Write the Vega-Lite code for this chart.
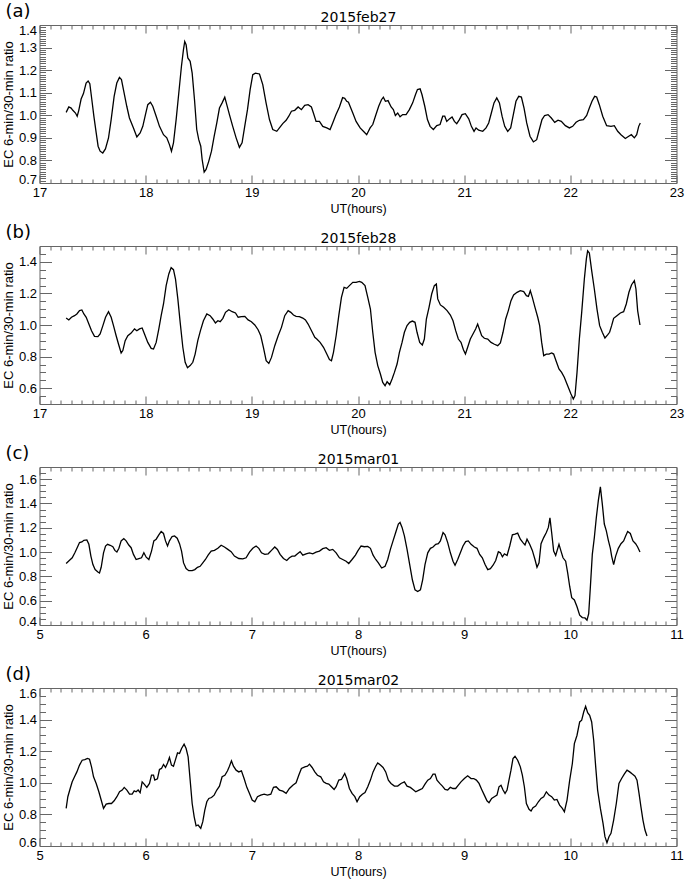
{
  "$schema": "https://vega.github.io/schema/vega-lite/v6.json",
  "background": "white",
  "padding": {"left": 1.5, "top": 2, "right": 0, "bottom": 0},
  "bounds": "flush",
  "spacing": 63,
  "config": {
    "font": "Liberation Sans",
    "view": {"stroke": "#666", "strokeWidth": 1},
    "title": {"font": "DejaVu Sans", "fontSize": 18, "fontWeight": "normal", "color": "black"},
    "axis": {
      "labelFont": "Liberation Sans", "titleFont": "Liberation Sans",
      "labelFontSize": 13, "titleFontSize": 12.5, "titleFontWeight": "normal",
      "labelColor": "black", "titleColor": "black", "tickColor": "#666",
      "domain": false, "grid": false, "labelOverlap": false, "labelFlush": false
    },
    "axisLeft": {"labelPadding": 15, "titlePadding": 3, "titleFontSize": 13},
    "axisBottom": {"labelPadding": 11.5, "titlePadding": -1},
    "axisTop": {"labels": false, "titleFont": "DejaVu Sans", "titleFontSize": 14, "titlePadding": 0},
    "axisRight": {"labels": false, "title": null}
  },
  "datasets": {
    "feb27": [
      {"t":17.251,"r":1.013},{"t":17.276,"r":1.037},{"t":17.298,"r":1.032},{"t":17.314,"r":1.022},{"t":17.339,"r":1.010},{"t":17.355,"r":0.996},{"t":17.370,"r":1.022},{"t":17.392,"r":1.072},{"t":17.414,"r":1.096},{"t":17.439,"r":1.143},{"t":17.458,"r":1.152},{"t":17.474,"r":1.140},{"t":17.493,"r":1.069},{"t":17.512,"r":0.996},{"t":17.534,"r":0.922},{"t":17.552,"r":0.863},{"t":17.571,"r":0.841},{"t":17.596,"r":0.833},{"t":17.621,"r":0.851},{"t":17.650,"r":0.900},{"t":17.675,"r":0.981},{"t":17.703,"r":1.084},{"t":17.728,"r":1.143},{"t":17.753,"r":1.168},{"t":17.772,"r":1.158},{"t":17.794,"r":1.106},{"t":17.822,"r":1.040},{"t":17.847,"r":0.988},{"t":17.885,"r":0.944},{"t":17.917,"r":0.904},{"t":17.948,"r":0.922},{"t":17.973,"r":0.951},{"t":17.998,"r":1.003},{"t":18.020,"r":1.047},{"t":18.045,"r":1.058},{"t":18.067,"r":1.040},{"t":18.099,"r":0.996},{"t":18.130,"r":0.951},{"t":18.168,"r":0.914},{"t":18.199,"r":0.900},{"t":18.224,"r":0.870},{"t":18.243,"r":0.841},{"t":18.262,"r":0.878},{"t":18.287,"r":0.981},{"t":18.312,"r":1.099},{"t":18.337,"r":1.217},{"t":18.356,"r":1.291},{"t":18.368,"r":1.327},{"t":18.381,"r":1.313},{"t":18.397,"r":1.254},{"t":18.419,"r":1.239},{"t":18.438,"r":1.187},{"t":18.460,"r":1.069},{"t":18.481,"r":0.937},{"t":18.500,"r":0.892},{"t":18.519,"r":0.863},{"t":18.532,"r":0.804},{"t":18.551,"r":0.748},{"t":18.569,"r":0.760},{"t":18.594,"r":0.796},{"t":18.620,"r":0.841},{"t":18.645,"r":0.907},{"t":18.670,"r":0.966},{"t":18.695,"r":1.032},{"t":18.720,"r":1.055},{"t":18.745,"r":1.080},{"t":18.764,"r":1.047},{"t":18.789,"r":1.003},{"t":18.820,"r":0.951},{"t":18.852,"r":0.900},{"t":18.883,"r":0.858},{"t":18.908,"r":0.878},{"t":18.933,"r":0.951},{"t":18.959,"r":1.025},{"t":18.984,"r":1.114},{"t":19.009,"r":1.180},{"t":19.034,"r":1.187},{"t":19.072,"r":1.183},{"t":19.103,"r":1.136},{"t":19.134,"r":1.055},{"t":19.166,"r":0.981},{"t":19.197,"r":0.937},{"t":19.235,"r":0.929},{"t":19.260,"r":0.944},{"t":19.291,"r":0.963},{"t":19.323,"r":0.978},{"t":19.348,"r":0.996},{"t":19.373,"r":1.018},{"t":19.404,"r":1.022},{"t":19.436,"r":1.037},{"t":19.467,"r":1.025},{"t":19.498,"r":1.044},{"t":19.530,"r":1.047},{"t":19.561,"r":1.037},{"t":19.580,"r":1.010},{"t":19.605,"r":0.973},{"t":19.637,"r":0.973},{"t":19.668,"r":0.951},{"t":19.706,"r":0.944},{"t":19.737,"r":0.937},{"t":19.762,"r":0.966},{"t":19.793,"r":1.003},{"t":19.825,"r":1.037},{"t":19.855,"r":1.078},{"t":19.875,"r":1.075},{"t":19.894,"r":1.062},{"t":19.910,"r":1.058},{"t":19.951,"r":1.010},{"t":19.982,"r":0.973},{"t":20.020,"r":0.944},{"t":20.060,"r":0.925},{"t":20.082,"r":0.914},{"t":20.114,"r":0.944},{"t":20.139,"r":0.959},{"t":20.164,"r":0.996},{"t":20.195,"r":1.040},{"t":20.221,"r":1.069},{"t":20.239,"r":1.080},{"t":20.258,"r":1.062},{"t":20.283,"r":1.065},{"t":20.312,"r":1.037},{"t":20.333,"r":1.025},{"t":20.352,"r":0.999},{"t":20.374,"r":1.010},{"t":20.396,"r":0.993},{"t":20.421,"r":1.003},{"t":20.453,"r":1.003},{"t":20.484,"r":1.025},{"t":20.515,"r":1.055},{"t":20.541,"r":1.091},{"t":20.560,"r":1.114},{"t":20.585,"r":1.117},{"t":20.603,"r":1.091},{"t":20.629,"r":1.040},{"t":20.654,"r":0.981},{"t":20.679,"r":0.951},{"t":20.710,"r":0.937},{"t":20.742,"r":0.954},{"t":20.773,"r":0.959},{"t":20.798,"r":0.996},{"t":20.817,"r":0.996},{"t":20.836,"r":0.973},{"t":20.861,"r":0.984},{"t":20.886,"r":0.993},{"t":20.908,"r":0.973},{"t":20.930,"r":0.963},{"t":20.955,"r":0.981},{"t":20.980,"r":1.003},{"t":21.011,"r":1.007},{"t":21.043,"r":0.984},{"t":21.068,"r":0.951},{"t":21.093,"r":0.929},{"t":21.112,"r":0.944},{"t":21.137,"r":0.934},{"t":21.175,"r":0.929},{"t":21.206,"r":0.944},{"t":21.231,"r":0.966},{"t":21.256,"r":1.010},{"t":21.281,"r":1.055},{"t":21.307,"r":1.077},{"t":21.332,"r":1.055},{"t":21.357,"r":0.996},{"t":21.382,"r":0.951},{"t":21.410,"r":0.929},{"t":21.438,"r":0.944},{"t":21.463,"r":1.003},{"t":21.488,"r":1.062},{"t":21.514,"r":1.084},{"t":21.539,"r":1.081},{"t":21.564,"r":1.032},{"t":21.589,"r":0.966},{"t":21.620,"r":0.907},{"t":21.652,"r":0.882},{"t":21.683,"r":0.892},{"t":21.708,"r":0.937},{"t":21.733,"r":0.981},{"t":21.758,"r":0.999},{"t":21.790,"r":1.003},{"t":21.821,"r":0.988},{"t":21.853,"r":0.969},{"t":21.884,"r":0.978},{"t":21.915,"r":0.973},{"t":21.953,"r":0.954},{"t":21.991,"r":0.944},{"t":22.022,"r":0.951},{"t":22.054,"r":0.969},{"t":22.085,"r":0.978},{"t":22.123,"r":0.981},{"t":22.154,"r":0.999},{"t":22.179,"r":1.032},{"t":22.204,"r":1.062},{"t":22.229,"r":1.084},{"t":22.248,"r":1.081},{"t":22.273,"r":1.047},{"t":22.305,"r":0.996},{"t":22.342,"r":0.954},{"t":22.383,"r":0.951},{"t":22.414,"r":0.954},{"t":22.446,"r":0.929},{"t":22.477,"r":0.914},{"t":22.518,"r":0.897},{"t":22.550,"r":0.907},{"t":22.575,"r":0.914},{"t":22.603,"r":0.900},{"t":22.625,"r":0.914},{"t":22.644,"r":0.951},{"t":22.659,"r":0.966}
    ],
    "feb28": [
      {"t":17.251,"r":1.044},{"t":17.276,"r":1.032},{"t":17.301,"r":1.049},{"t":17.330,"r":1.059},{"t":17.352,"r":1.070},{"t":17.377,"r":1.091},{"t":17.399,"r":1.095},{"t":17.418,"r":1.070},{"t":17.440,"r":1.049},{"t":17.465,"r":1.006},{"t":17.490,"r":0.964},{"t":17.518,"r":0.928},{"t":17.550,"r":0.926},{"t":17.571,"r":0.943},{"t":17.597,"r":0.996},{"t":17.622,"r":1.049},{"t":17.650,"r":1.084},{"t":17.675,"r":1.049},{"t":17.697,"r":0.996},{"t":17.722,"r":0.932},{"t":17.744,"r":0.880},{"t":17.769,"r":0.823},{"t":17.785,"r":0.838},{"t":17.807,"r":0.901},{"t":17.832,"r":0.932},{"t":17.863,"r":0.949},{"t":17.895,"r":0.975},{"t":17.917,"r":0.964},{"t":17.942,"r":0.975},{"t":17.967,"r":0.981},{"t":17.989,"r":0.943},{"t":18.020,"r":0.890},{"t":18.052,"r":0.852},{"t":18.074,"r":0.848},{"t":18.099,"r":0.890},{"t":18.124,"r":0.975},{"t":18.146,"r":1.059},{"t":18.168,"r":1.133},{"t":18.193,"r":1.249},{"t":18.218,"r":1.323},{"t":18.240,"r":1.363},{"t":18.262,"r":1.350},{"t":18.281,"r":1.291},{"t":18.303,"r":1.165},{"t":18.325,"r":1.017},{"t":18.350,"r":0.859},{"t":18.372,"r":0.764},{"t":18.394,"r":0.730},{"t":18.419,"r":0.743},{"t":18.444,"r":0.764},{"t":18.466,"r":0.816},{"t":18.491,"r":0.901},{"t":18.516,"r":0.964},{"t":18.544,"r":1.027},{"t":18.576,"r":1.070},{"t":18.607,"r":1.059},{"t":18.632,"r":1.038},{"t":18.657,"r":1.013},{"t":18.680,"r":1.027},{"t":18.702,"r":1.021},{"t":18.727,"r":1.042},{"t":18.752,"r":1.080},{"t":18.783,"r":1.097},{"t":18.815,"r":1.084},{"t":18.846,"r":1.076},{"t":18.871,"r":1.049},{"t":18.902,"r":1.053},{"t":18.934,"r":1.055},{"t":18.965,"r":1.032},{"t":18.996,"r":1.021},{"t":19.028,"r":1.000},{"t":19.059,"r":0.970},{"t":19.084,"r":0.932},{"t":19.109,"r":0.859},{"t":19.135,"r":0.774},{"t":19.160,"r":0.757},{"t":19.185,"r":0.795},{"t":19.216,"r":0.869},{"t":19.248,"r":0.932},{"t":19.279,"r":0.985},{"t":19.310,"r":1.059},{"t":19.342,"r":1.091},{"t":19.367,"r":1.080},{"t":19.392,"r":1.063},{"t":19.417,"r":1.055},{"t":19.448,"r":1.053},{"t":19.480,"r":1.044},{"t":19.505,"r":1.032},{"t":19.530,"r":1.006},{"t":19.562,"r":0.964},{"t":19.593,"r":0.922},{"t":19.612,"r":0.911},{"t":19.643,"r":0.890},{"t":19.675,"r":0.859},{"t":19.706,"r":0.816},{"t":19.731,"r":0.781},{"t":19.750,"r":0.774},{"t":19.769,"r":0.827},{"t":19.794,"r":0.932},{"t":19.819,"r":1.059},{"t":19.844,"r":1.175},{"t":19.869,"r":1.238},{"t":19.894,"r":1.232},{"t":19.919,"r":1.249},{"t":19.951,"r":1.270},{"t":19.982,"r":1.270},{"t":20.013,"r":1.276},{"t":20.035,"r":1.270},{"t":20.066,"r":1.249},{"t":20.092,"r":1.175},{"t":20.117,"r":1.101},{"t":20.139,"r":0.954},{"t":20.161,"r":0.827},{"t":20.186,"r":0.743},{"t":20.211,"r":0.690},{"t":20.233,"r":0.637},{"t":20.255,"r":0.616},{"t":20.274,"r":0.641},{"t":20.299,"r":0.622},{"t":20.321,"r":0.658},{"t":20.343,"r":0.700},{"t":20.368,"r":0.753},{"t":20.390,"r":0.827},{"t":20.415,"r":0.890},{"t":20.437,"r":0.954},{"t":20.462,"r":0.996},{"t":20.487,"r":1.017},{"t":20.512,"r":1.025},{"t":20.537,"r":1.017},{"t":20.556,"r":0.954},{"t":20.581,"r":0.890},{"t":20.606,"r":0.873},{"t":20.625,"r":0.911},{"t":20.644,"r":1.038},{"t":20.669,"r":1.112},{"t":20.694,"r":1.196},{"t":20.719,"r":1.249},{"t":20.738,"r":1.259},{"t":20.751,"r":1.165},{"t":20.776,"r":1.127},{"t":20.807,"r":1.112},{"t":20.839,"r":1.091},{"t":20.870,"r":1.063},{"t":20.895,"r":1.027},{"t":20.920,"r":0.964},{"t":20.945,"r":0.911},{"t":20.970,"r":0.890},{"t":20.993,"r":0.844},{"t":21.012,"r":0.816},{"t":21.033,"r":0.859},{"t":21.058,"r":0.911},{"t":21.083,"r":0.943},{"t":21.108,"r":0.975},{"t":21.127,"r":1.006},{"t":21.143,"r":0.975},{"t":21.165,"r":0.932},{"t":21.190,"r":0.916},{"t":21.222,"r":0.911},{"t":21.253,"r":0.890},{"t":21.285,"r":0.878},{"t":21.316,"r":0.869},{"t":21.341,"r":0.886},{"t":21.366,"r":0.954},{"t":21.391,"r":1.038},{"t":21.416,"r":1.091},{"t":21.441,"r":1.154},{"t":21.466,"r":1.190},{"t":21.498,"r":1.207},{"t":21.529,"r":1.217},{"t":21.561,"r":1.211},{"t":21.586,"r":1.186},{"t":21.605,"r":1.181},{"t":21.623,"r":1.217},{"t":21.642,"r":1.175},{"t":21.667,"r":1.112},{"t":21.693,"r":1.049},{"t":21.711,"r":0.996},{"t":21.730,"r":0.890},{"t":21.749,"r":0.806},{"t":21.774,"r":0.816},{"t":21.799,"r":0.816},{"t":21.824,"r":0.823},{"t":21.843,"r":0.816},{"t":21.865,"r":0.774},{"t":21.893,"r":0.722},{"t":21.918,"r":0.700},{"t":21.943,"r":0.669},{"t":21.975,"r":0.616},{"t":22.006,"r":0.563},{"t":22.028,"r":0.532},{"t":22.044,"r":0.553},{"t":22.063,"r":0.700},{"t":22.085,"r":0.911},{"t":22.107,"r":1.080},{"t":22.132,"r":1.291},{"t":22.151,"r":1.418},{"t":22.163,"r":1.470},{"t":22.179,"r":1.456},{"t":22.201,"r":1.344},{"t":22.226,"r":1.228},{"t":22.251,"r":1.101},{"t":22.276,"r":0.996},{"t":22.301,"r":0.954},{"t":22.326,"r":0.918},{"t":22.351,"r":0.937},{"t":22.370,"r":0.954},{"t":22.389,"r":0.996},{"t":22.408,"r":1.042},{"t":22.439,"r":1.059},{"t":22.471,"r":1.076},{"t":22.502,"r":1.084},{"t":22.527,"r":1.133},{"t":22.552,"r":1.207},{"t":22.577,"r":1.255},{"t":22.603,"r":1.281},{"t":22.618,"r":1.228},{"t":22.634,"r":1.091},{"t":22.656,"r":1.000}
    ],
    "mar01": [
      {"t":5.251,"r":0.906},{"t":5.283,"r":0.933},{"t":5.308,"r":0.953},{"t":5.333,"r":0.994},{"t":5.358,"r":1.042},{"t":5.377,"r":1.078},{"t":5.399,"r":1.083},{"t":5.418,"r":1.097},{"t":5.446,"r":1.100},{"t":5.465,"r":1.064},{"t":5.484,"r":0.967},{"t":5.503,"r":0.897},{"t":5.524,"r":0.856},{"t":5.550,"r":0.836},{"t":5.565,"r":0.828},{"t":5.581,"r":0.875},{"t":5.603,"r":0.994},{"t":5.622,"r":1.050},{"t":5.641,"r":1.064},{"t":5.666,"r":1.056},{"t":5.691,"r":1.044},{"t":5.710,"r":1.014},{"t":5.729,"r":1.000},{"t":5.748,"r":1.031},{"t":5.769,"r":1.092},{"t":5.794,"r":1.111},{"t":5.816,"r":1.092},{"t":5.841,"r":1.058},{"t":5.863,"r":1.036},{"t":5.885,"r":0.981},{"t":5.910,"r":0.939},{"t":5.936,"r":0.947},{"t":5.961,"r":0.953},{"t":5.983,"r":0.994},{"t":6.005,"r":0.958},{"t":6.030,"r":0.939},{"t":6.055,"r":1.008},{"t":6.077,"r":1.092},{"t":6.099,"r":1.106},{"t":6.124,"r":1.142},{"t":6.146,"r":1.169},{"t":6.168,"r":1.153},{"t":6.187,"r":1.092},{"t":6.206,"r":1.050},{"t":6.224,"r":1.092},{"t":6.249,"r":1.128},{"t":6.272,"r":1.133},{"t":6.297,"r":1.114},{"t":6.319,"r":1.069},{"t":6.338,"r":1.008},{"t":6.357,"r":0.911},{"t":6.381,"r":0.864},{"t":6.406,"r":0.847},{"t":6.438,"r":0.847},{"t":6.463,"r":0.856},{"t":6.488,"r":0.875},{"t":6.513,"r":0.883},{"t":6.538,"r":0.911},{"t":6.563,"r":0.939},{"t":6.588,"r":0.975},{"t":6.617,"r":1.008},{"t":6.648,"r":1.014},{"t":6.680,"r":1.031},{"t":6.711,"r":1.056},{"t":6.742,"r":1.042},{"t":6.774,"r":1.022},{"t":6.805,"r":1.003},{"t":6.836,"r":0.967},{"t":6.877,"r":0.947},{"t":6.915,"r":0.944},{"t":6.946,"r":0.953},{"t":6.978,"r":1.000},{"t":7.009,"r":1.031},{"t":7.040,"r":1.050},{"t":7.066,"r":1.031},{"t":7.091,"r":0.994},{"t":7.122,"r":0.981},{"t":7.154,"r":0.986},{"t":7.185,"r":1.014},{"t":7.216,"r":1.042},{"t":7.241,"r":1.022},{"t":7.266,"r":0.981},{"t":7.298,"r":0.947},{"t":7.329,"r":0.931},{"t":7.354,"r":0.953},{"t":7.379,"r":0.967},{"t":7.405,"r":0.967},{"t":7.430,"r":0.986},{"t":7.455,"r":1.003},{"t":7.480,"r":0.975},{"t":7.511,"r":0.986},{"t":7.543,"r":0.994},{"t":7.574,"r":0.986},{"t":7.605,"r":1.000},{"t":7.637,"r":1.008},{"t":7.668,"r":1.028},{"t":7.700,"r":1.036},{"t":7.731,"r":1.014},{"t":7.762,"r":1.022},{"t":7.794,"r":0.994},{"t":7.825,"r":0.953},{"t":7.856,"r":0.939},{"t":7.888,"r":0.925},{"t":7.913,"r":0.906},{"t":7.944,"r":0.939},{"t":7.976,"r":0.975},{"t":7.997,"r":1.008},{"t":8.029,"r":1.050},{"t":8.060,"r":1.044},{"t":8.092,"r":1.047},{"t":8.117,"r":1.031},{"t":8.142,"r":0.975},{"t":8.167,"r":0.939},{"t":8.192,"r":0.911},{"t":8.223,"r":0.869},{"t":8.255,"r":0.883},{"t":8.280,"r":0.939},{"t":8.305,"r":1.022},{"t":8.330,"r":1.092},{"t":8.355,"r":1.161},{"t":8.380,"r":1.231},{"t":8.396,"r":1.244},{"t":8.415,"r":1.203},{"t":8.437,"r":1.133},{"t":8.462,"r":1.022},{"t":8.487,"r":0.897},{"t":8.512,"r":0.772},{"t":8.537,"r":0.689},{"t":8.562,"r":0.675},{"t":8.588,"r":0.689},{"t":8.609,"r":0.772},{"t":8.631,"r":0.897},{"t":8.657,"r":0.994},{"t":8.682,"r":1.031},{"t":8.707,"r":1.042},{"t":8.732,"r":1.064},{"t":8.757,"r":1.069},{"t":8.776,"r":1.092},{"t":8.801,"r":1.161},{"t":8.820,"r":1.142},{"t":8.845,"r":1.078},{"t":8.870,"r":0.994},{"t":8.895,"r":0.925},{"t":8.914,"r":0.892},{"t":8.939,"r":0.939},{"t":8.964,"r":0.994},{"t":8.989,"r":1.050},{"t":9.014,"r":1.086},{"t":9.039,"r":1.092},{"t":9.065,"r":1.064},{"t":9.096,"r":1.042},{"t":9.121,"r":1.031},{"t":9.146,"r":0.981},{"t":9.171,"r":0.953},{"t":9.197,"r":0.897},{"t":9.222,"r":0.856},{"t":9.247,"r":0.864},{"t":9.272,"r":0.892},{"t":9.297,"r":0.931},{"t":9.322,"r":1.003},{"t":9.341,"r":0.994},{"t":9.360,"r":0.961},{"t":9.379,"r":0.986},{"t":9.404,"r":0.972},{"t":9.429,"r":1.050},{"t":9.454,"r":1.142},{"t":9.479,"r":1.147},{"t":9.504,"r":1.156},{"t":9.529,"r":1.106},{"t":9.554,"r":1.078},{"t":9.573,"r":1.058},{"t":9.592,"r":1.106},{"t":9.617,"r":1.064},{"t":9.642,"r":1.014},{"t":9.667,"r":0.939},{"t":9.686,"r":0.875},{"t":9.705,"r":0.911},{"t":9.724,"r":1.069},{"t":9.749,"r":1.119},{"t":9.774,"r":1.161},{"t":9.793,"r":1.203},{"t":9.808,"r":1.281},{"t":9.824,"r":1.161},{"t":9.843,"r":1.008},{"t":9.862,"r":0.972},{"t":9.874,"r":1.008},{"t":9.893,"r":1.064},{"t":9.912,"r":1.008},{"t":9.931,"r":0.953},{"t":9.956,"r":0.925},{"t":9.975,"r":0.828},{"t":9.994,"r":0.717},{"t":10.013,"r":0.625},{"t":10.038,"r":0.606},{"t":10.063,"r":0.550},{"t":10.088,"r":0.481},{"t":10.113,"r":0.461},{"t":10.138,"r":0.458},{"t":10.157,"r":0.439},{"t":10.173,"r":0.494},{"t":10.188,"r":0.703},{"t":10.207,"r":0.981},{"t":10.226,"r":1.119},{"t":10.245,"r":1.286},{"t":10.264,"r":1.425},{"t":10.283,"r":1.536},{"t":10.301,"r":1.397},{"t":10.320,"r":1.231},{"t":10.339,"r":1.175},{"t":10.358,"r":1.097},{"t":10.377,"r":1.031},{"t":10.389,"r":0.967},{"t":10.408,"r":0.897},{"t":10.427,"r":0.967},{"t":10.452,"r":1.031},{"t":10.477,"r":1.069},{"t":10.502,"r":1.092},{"t":10.521,"r":1.133},{"t":10.540,"r":1.169},{"t":10.565,"r":1.153},{"t":10.590,"r":1.092},{"t":10.615,"r":1.069},{"t":10.634,"r":1.042},{"t":10.656,"r":1.000}
    ],
    "mar02": [
      {"t":5.251,"r":0.838},{"t":5.267,"r":0.912},{"t":5.289,"r":0.964},{"t":5.308,"r":1.006},{"t":5.330,"r":1.038},{"t":5.352,"r":1.069},{"t":5.377,"r":1.112},{"t":5.402,"r":1.143},{"t":5.427,"r":1.147},{"t":5.452,"r":1.154},{"t":5.471,"r":1.149},{"t":5.490,"r":1.101},{"t":5.509,"r":1.038},{"t":5.534,"r":0.996},{"t":5.559,"r":0.943},{"t":5.581,"r":0.891},{"t":5.603,"r":0.838},{"t":5.628,"r":0.865},{"t":5.653,"r":0.869},{"t":5.678,"r":0.869},{"t":5.703,"r":0.886},{"t":5.729,"r":0.912},{"t":5.754,"r":0.943},{"t":5.779,"r":0.954},{"t":5.798,"r":0.971},{"t":5.823,"r":0.954},{"t":5.848,"r":0.928},{"t":5.873,"r":0.928},{"t":5.892,"r":0.949},{"t":5.910,"r":0.943},{"t":5.929,"r":0.954},{"t":5.948,"r":0.937},{"t":5.967,"r":1.006},{"t":5.986,"r":0.992},{"t":6.011,"r":0.971},{"t":6.036,"r":0.996},{"t":6.055,"r":1.048},{"t":6.074,"r":1.048},{"t":6.086,"r":1.017},{"t":6.111,"r":1.025},{"t":6.130,"r":1.084},{"t":6.149,"r":1.091},{"t":6.168,"r":1.116},{"t":6.187,"r":1.097},{"t":6.206,"r":1.126},{"t":6.224,"r":1.160},{"t":6.243,"r":1.112},{"t":6.262,"r":1.105},{"t":6.281,"r":1.147},{"t":6.300,"r":1.189},{"t":6.319,"r":1.185},{"t":6.338,"r":1.217},{"t":6.362,"r":1.244},{"t":6.381,"r":1.217},{"t":6.400,"r":1.164},{"t":6.419,"r":1.017},{"t":6.438,"r":0.869},{"t":6.457,"r":0.785},{"t":6.475,"r":0.728},{"t":6.494,"r":0.733},{"t":6.519,"r":0.712},{"t":6.538,"r":0.754},{"t":6.557,"r":0.827},{"t":6.576,"r":0.880},{"t":6.595,"r":0.901},{"t":6.620,"r":0.907},{"t":6.645,"r":0.922},{"t":6.670,"r":0.954},{"t":6.695,"r":0.979},{"t":6.720,"r":1.038},{"t":6.746,"r":1.048},{"t":6.771,"r":1.076},{"t":6.789,"r":1.105},{"t":6.808,"r":1.139},{"t":6.827,"r":1.105},{"t":6.852,"r":1.080},{"t":6.877,"r":1.069},{"t":6.902,"r":1.076},{"t":6.927,"r":1.027},{"t":6.953,"r":0.971},{"t":6.978,"r":0.933},{"t":7.003,"r":0.891},{"t":7.028,"r":0.880},{"t":7.053,"r":0.912},{"t":7.084,"r":0.922},{"t":7.116,"r":0.928},{"t":7.147,"r":0.922},{"t":7.179,"r":0.928},{"t":7.204,"r":0.971},{"t":7.229,"r":0.975},{"t":7.260,"r":0.954},{"t":7.292,"r":0.947},{"t":7.323,"r":0.933},{"t":7.354,"r":0.964},{"t":7.386,"r":0.985},{"t":7.417,"r":1.000},{"t":7.442,"r":1.048},{"t":7.467,"r":1.091},{"t":7.499,"r":1.101},{"t":7.524,"r":1.105},{"t":7.543,"r":1.118},{"t":7.568,"r":1.097},{"t":7.593,"r":1.069},{"t":7.618,"r":1.048},{"t":7.649,"r":1.038},{"t":7.675,"r":1.006},{"t":7.700,"r":0.996},{"t":7.725,"r":0.992},{"t":7.750,"r":0.975},{"t":7.775,"r":0.958},{"t":7.794,"r":0.975},{"t":7.819,"r":1.017},{"t":7.844,"r":1.021},{"t":7.875,"r":1.059},{"t":7.894,"r":1.027},{"t":7.919,"r":0.964},{"t":7.944,"r":0.933},{"t":7.970,"r":0.912},{"t":7.991,"r":0.880},{"t":8.016,"r":0.912},{"t":8.041,"r":0.928},{"t":8.066,"r":0.939},{"t":8.092,"r":0.975},{"t":8.117,"r":1.017},{"t":8.142,"r":1.069},{"t":8.167,"r":1.105},{"t":8.186,"r":1.126},{"t":8.211,"r":1.112},{"t":8.236,"r":1.097},{"t":8.261,"r":1.069},{"t":8.286,"r":1.017},{"t":8.311,"r":0.996},{"t":8.343,"r":0.979},{"t":8.374,"r":0.979},{"t":8.405,"r":0.996},{"t":8.437,"r":1.006},{"t":8.462,"r":0.979},{"t":8.493,"r":0.971},{"t":8.518,"r":0.958},{"t":8.544,"r":0.943},{"t":8.575,"r":0.954},{"t":8.606,"r":0.964},{"t":8.631,"r":0.992},{"t":8.657,"r":1.017},{"t":8.682,"r":1.027},{"t":8.707,"r":1.055},{"t":8.726,"r":1.055},{"t":8.744,"r":1.017},{"t":8.770,"r":0.996},{"t":8.795,"r":0.979},{"t":8.820,"r":0.958},{"t":8.845,"r":0.954},{"t":8.870,"r":0.971},{"t":8.895,"r":0.964},{"t":8.920,"r":0.964},{"t":8.945,"r":0.985},{"t":8.970,"r":1.006},{"t":9.002,"r":1.027},{"t":9.033,"r":1.044},{"t":9.065,"r":1.027},{"t":9.090,"r":1.027},{"t":9.115,"r":1.017},{"t":9.140,"r":0.996},{"t":9.165,"r":0.958},{"t":9.190,"r":0.922},{"t":9.215,"r":0.886},{"t":9.234,"r":0.874},{"t":9.259,"r":0.901},{"t":9.284,"r":0.912},{"t":9.309,"r":0.922},{"t":9.328,"r":0.975},{"t":9.347,"r":0.985},{"t":9.366,"r":0.954},{"t":9.385,"r":0.933},{"t":9.404,"r":0.954},{"t":9.422,"r":1.017},{"t":9.441,"r":1.080},{"t":9.460,"r":1.154},{"t":9.479,"r":1.168},{"t":9.504,"r":1.143},{"t":9.529,"r":1.101},{"t":9.548,"r":1.048},{"t":9.567,"r":0.975},{"t":9.586,"r":0.869},{"t":9.611,"r":0.832},{"t":9.630,"r":0.821},{"t":9.648,"r":0.842},{"t":9.673,"r":0.853},{"t":9.699,"r":0.880},{"t":9.724,"r":0.901},{"t":9.749,"r":0.912},{"t":9.774,"r":0.943},{"t":9.799,"r":0.922},{"t":9.824,"r":0.912},{"t":9.849,"r":0.891},{"t":9.874,"r":0.895},{"t":9.899,"r":0.859},{"t":9.925,"r":0.838},{"t":9.944,"r":0.817},{"t":9.969,"r":0.891},{"t":9.994,"r":1.017},{"t":10.019,"r":1.122},{"t":10.038,"r":1.248},{"t":10.063,"r":1.301},{"t":10.088,"r":1.385},{"t":10.107,"r":1.396},{"t":10.126,"r":1.448},{"t":10.144,"r":1.484},{"t":10.163,"r":1.444},{"t":10.182,"r":1.427},{"t":10.201,"r":1.385},{"t":10.220,"r":1.269},{"t":10.239,"r":1.101},{"t":10.257,"r":0.954},{"t":10.283,"r":0.838},{"t":10.308,"r":0.743},{"t":10.326,"r":0.659},{"t":10.345,"r":0.621},{"t":10.364,"r":0.659},{"t":10.383,"r":0.680},{"t":10.408,"r":0.764},{"t":10.433,"r":0.869},{"t":10.458,"r":0.996},{"t":10.483,"r":1.027},{"t":10.508,"r":1.055},{"t":10.534,"r":1.080},{"t":10.559,"r":1.069},{"t":10.584,"r":1.055},{"t":10.609,"r":1.042},{"t":10.628,"r":1.017},{"t":10.647,"r":0.933},{"t":10.665,"r":0.848},{"t":10.684,"r":0.764},{"t":10.703,"r":0.701},{"t":10.722,"r":0.663}
    ]
  },
  "vconcat": [
    {
      "title": {"text": "(a)", "anchor": "start", "frame": "bounds", "offset": 0, "dy": 10, "dx": 3},
      "width": 637, "height": 158,
      "layer": [
        {
          "data": {"name": "feb27"},
          "mark": {"type": "line", "color": "black", "strokeWidth": 1.3},
          "encoding": {
            "x": {"field": "t", "type": "quantitative", "scale": {"domain": [17, 23], "nice": false, "zero": false},
                  "axis": {"orient": "bottom", "tickCount": 60, "title": "UT(hours)",
                           "tickSize": {"condition": {"test": "abs(datum.value - round(datum.value)) < 0.001", "value": -8}, "value": -4},
                           "labelExpr": "abs(datum.value - round(datum.value)) < 0.001 ? format(datum.value, 'd') : ''"}},
            "y": {"field": "r", "type": "quantitative", "scale": {"domain": [0.7, 1.4], "nice": false, "zero": false},
                  "axis": {"orient": "left", "tickCount": 70, "title": "EC  6-min/30-min  ratio",
                           "tickSize": {"condition": {"test": "abs(datum.value*10 - round(datum.value*10)) < 0.001", "value": -12}, "value": -6},
                           "labelOffset": {"condition": {"test": "datum.value > 1.399", "value": 5}, "value": 0},
                           "labelBaseline": {"condition": {"test": "datum.value < 0.701", "value": "alphabetic"}, "value": "middle"},
                           "labelExpr": "abs(datum.value*10 - round(datum.value*10)) < 0.001 ? format(datum.value, '.1f') : ''"}}
          }
        },
        {
          "mark": {"type": "rule", "color": "black", "strokeWidth": 1.4, "strokeDash": [1.5, 2.5]},
          "encoding": {
            "x": {"datum": 17, "type": "quantitative", "scale": {"domain": [17, 23], "nice": false, "zero": false},
                  "axis": {"orient": "top", "tickCount": 60, "title": "2015feb27",
                           "tickSize": {"condition": {"test": "abs(datum.value - round(datum.value)) < 0.001", "value": -8}, "value": -4}}},
            "x2": {"datum": 23},
            "y": {"datum": 1, "type": "quantitative", "scale": {"domain": [0.7, 1.4], "nice": false, "zero": false},
                  "axis": {"orient": "right", "tickCount": 70,
                           "tickSize": {"condition": {"test": "abs(datum.value*10 - round(datum.value*10)) < 0.001", "value": -12}, "value": -6}}}
          }
        }
      ],
      "resolve": {"axis": {"x": "independent", "y": "independent"}}
    },
    {
      "title": {"text": "(b)", "anchor": "start", "frame": "bounds", "offset": 0, "dy": 10, "dx": 3},
      "width": 637, "height": 158,
      "layer": [
        {
          "data": {"name": "feb28"},
          "mark": {"type": "line", "color": "black", "strokeWidth": 1.3},
          "encoding": {
            "x": {"field": "t", "type": "quantitative", "scale": {"domain": [17, 23], "nice": false, "zero": false},
                  "axis": {"orient": "bottom", "tickCount": 60, "title": "UT(hours)",
                           "tickSize": {"condition": {"test": "abs(datum.value - round(datum.value)) < 0.001", "value": -8}, "value": -4},
                           "labelExpr": "abs(datum.value - round(datum.value)) < 0.001 ? format(datum.value, 'd') : ''"}},
            "y": {"field": "r", "type": "quantitative", "scale": {"domain": [0.5, 1.5], "nice": false, "zero": false},
                  "axis": {"orient": "left", "tickCount": 20, "title": "EC  6-min/30-min  ratio",
                           "tickSize": {"condition": {"test": "abs(datum.value*5 - round(datum.value*5)) < 0.001", "value": -12}, "value": -6},
                           "labelExpr": "abs(datum.value*5 - round(datum.value*5)) < 0.001 && datum.value > 0.55 && datum.value < 1.45 ? format(datum.value, '.1f') : ''"}}
          }
        },
        {
          "mark": {"type": "rule", "color": "black", "strokeWidth": 1.4, "strokeDash": [1.5, 2.5]},
          "encoding": {
            "x": {"datum": 17, "type": "quantitative", "scale": {"domain": [17, 23], "nice": false, "zero": false},
                  "axis": {"orient": "top", "tickCount": 60, "title": "2015feb28",
                           "tickSize": {"condition": {"test": "abs(datum.value - round(datum.value)) < 0.001", "value": -8}, "value": -4}}},
            "x2": {"datum": 23},
            "y": {"datum": 1, "type": "quantitative", "scale": {"domain": [0.5, 1.5], "nice": false, "zero": false},
                  "axis": {"orient": "right", "tickCount": 20,
                           "tickSize": {"condition": {"test": "abs(datum.value*5 - round(datum.value*5)) < 0.001", "value": -12}, "value": -6}}}
          }
        }
      ],
      "resolve": {"axis": {"x": "independent", "y": "independent"}}
    },
    {
      "title": {"text": "(c)", "anchor": "start", "frame": "bounds", "offset": 0, "dy": 10, "dx": 3},
      "width": 637, "height": 158,
      "layer": [
        {
          "data": {"name": "mar01"},
          "mark": {"type": "line", "color": "black", "strokeWidth": 1.3},
          "encoding": {
            "x": {"field": "t", "type": "quantitative", "scale": {"domain": [5, 11], "nice": false, "zero": false},
                  "axis": {"orient": "bottom", "tickCount": 60, "title": "UT(hours)",
                           "tickSize": {"condition": {"test": "abs(datum.value - round(datum.value)) < 0.001", "value": -8}, "value": -4},
                           "labelExpr": "abs(datum.value - round(datum.value)) < 0.001 ? format(datum.value, 'd') : ''"}},
            "y": {"field": "r", "type": "quantitative", "scale": {"domain": [0.4, 1.7], "nice": false, "zero": false},
                  "axis": {"orient": "left", "tickCount": 26, "title": "EC  6-min/30-min  ratio",
                           "tickSize": {"condition": {"test": "abs(datum.value*5 - round(datum.value*5)) < 0.001", "value": -12}, "value": -6},
                           "labelBaseline": {"condition": {"test": "datum.value < 0.401", "value": "alphabetic"}, "value": "middle"},
                           "labelExpr": "abs(datum.value*5 - round(datum.value*5)) < 0.001 ? format(datum.value, '.1f') : ''"}}
          }
        },
        {
          "mark": {"type": "rule", "color": "black", "strokeWidth": 1.4, "strokeDash": [1.5, 2.5]},
          "encoding": {
            "x": {"datum": 5, "type": "quantitative", "scale": {"domain": [5, 11], "nice": false, "zero": false},
                  "axis": {"orient": "top", "tickCount": 60, "title": "2015mar01",
                           "tickSize": {"condition": {"test": "abs(datum.value - round(datum.value)) < 0.001", "value": -8}, "value": -4}}},
            "x2": {"datum": 11},
            "y": {"datum": 1, "type": "quantitative", "scale": {"domain": [0.4, 1.7], "nice": false, "zero": false},
                  "axis": {"orient": "right", "tickCount": 26,
                           "tickSize": {"condition": {"test": "abs(datum.value*5 - round(datum.value*5)) < 0.001", "value": -12}, "value": -6}}}
          }
        }
      ],
      "resolve": {"axis": {"x": "independent", "y": "independent"}}
    },
    {
      "title": {"text": "(d)", "anchor": "start", "frame": "bounds", "offset": 0, "dy": 10, "dx": 3},
      "width": 637, "height": 158,
      "layer": [
        {
          "data": {"name": "mar02"},
          "mark": {"type": "line", "color": "black", "strokeWidth": 1.3},
          "encoding": {
            "x": {"field": "t", "type": "quantitative", "scale": {"domain": [5, 11], "nice": false, "zero": false},
                  "axis": {"orient": "bottom", "tickCount": 60, "title": "UT(hours)",
                           "tickSize": {"condition": {"test": "abs(datum.value - round(datum.value)) < 0.001", "value": -8}, "value": -4},
                           "labelExpr": "abs(datum.value - round(datum.value)) < 0.001 ? format(datum.value, 'd') : ''"}},
            "y": {"field": "r", "type": "quantitative", "scale": {"domain": [0.6, 1.6], "nice": false, "zero": false},
                  "axis": {"orient": "left", "tickCount": 20, "title": "EC  6-min/30-min  ratio",
                           "tickSize": {"condition": {"test": "abs(datum.value*5 - round(datum.value*5)) < 0.001", "value": -12}, "value": -6},
                           "labelOffset": {"condition": {"test": "datum.value > 1.599", "value": 5}, "value": 0},
                           "labelBaseline": {"condition": {"test": "datum.value < 0.601", "value": "alphabetic"}, "value": "middle"},
                           "labelExpr": "abs(datum.value*5 - round(datum.value*5)) < 0.001 ? format(datum.value, '.1f') : ''"}}
          }
        },
        {
          "mark": {"type": "rule", "color": "black", "strokeWidth": 1.4, "strokeDash": [1.5, 2.5]},
          "encoding": {
            "x": {"datum": 5, "type": "quantitative", "scale": {"domain": [5, 11], "nice": false, "zero": false},
                  "axis": {"orient": "top", "tickCount": 60, "title": "2015mar02",
                           "tickSize": {"condition": {"test": "abs(datum.value - round(datum.value)) < 0.001", "value": -8}, "value": -4}}},
            "x2": {"datum": 11},
            "y": {"datum": 1, "type": "quantitative", "scale": {"domain": [0.6, 1.6], "nice": false, "zero": false},
                  "axis": {"orient": "right", "tickCount": 20,
                           "tickSize": {"condition": {"test": "abs(datum.value*5 - round(datum.value*5)) < 0.001", "value": -12}, "value": -6}}}
          }
        }
      ],
      "resolve": {"axis": {"x": "independent", "y": "independent"}}
    }
  ]
}
